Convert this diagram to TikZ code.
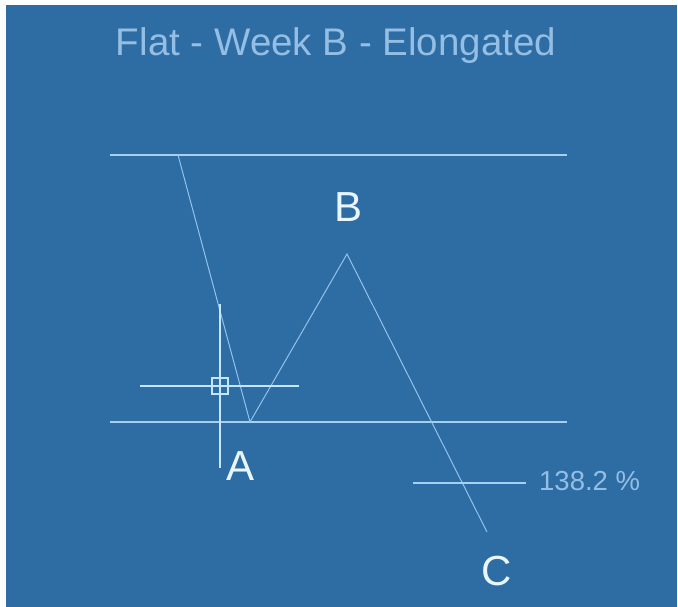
\documentclass[tikz,border=0pt]{standalone}
\usepackage{fontspec}
\setmainfont{Liberation Sans}
\definecolor{bgblue}{HTML}{2E6CA4}
\definecolor{lvl}{HTML}{A6D0F2}
\definecolor{wave}{HTML}{94C2EA}
\definecolor{cross}{HTML}{C4E6FF}
\definecolor{ttl}{HTML}{94BEE4}
\definecolor{lbl}{HTML}{EAF6FF}
\tikzset{
  level/.style={draw=lvl, line width=2pt},
  waveline/.style={draw=wave, line width=1pt},
  crossline/.style={draw=cross, line width=2pt},
  ptlabel/.style={text=lbl, font=\fontsize{42}{44}\selectfont, inner sep=0pt},
  pct/.style={text=ttl, font=\fontsize{27.5}{30}\selectfont, inner sep=0pt},
}
\begin{document}
\begin{tikzpicture}[x=1pt,y=-1pt]
\useasboundingbox (0,0) rectangle (678,607);
\fill[white] (0,0) rectangle (678,607);
\fill[bgblue] (6,5) rectangle (677,607);
% title
\node[text=ttl, font=\fontsize{38.5}{40}\selectfont, inner sep=0pt] (title) at (336,46) {Flat - Week B - Elongated};
% levels
\coordinate (t1) at (110,155); \coordinate (t2) at (567,155);
\coordinate (b1) at (110,422); \coordinate (b2) at (567,422);
\draw[level] (t1) -- (t2);
\draw[level] (b1) -- (b2);
% wave
\coordinate (w0) at (178,155);
\coordinate (pA) at (250,422);
\coordinate (pB) at (347,254);
\coordinate (pC) at (487,532);
\draw[waveline] (w0) -- (pA) -- (pB) -- (pC);
% 138.2 level
\coordinate (l1) at (413,483); \coordinate (l2) at (526,483);
\draw[level, line width=1.6pt] (l1) -- (l2);
\node[pct, anchor=west] (pcttext) at (539,481) {138.2 \%};
% crosshair
\coordinate (ch1) at (140,386); \coordinate (ch2) at (299,386);
\coordinate (cv1) at (220,304); \coordinate (cv2) at (220,468);
\draw[crossline] (ch1) -- (ch2);
\draw[crossline] (cv1) -- (cv2);
\node[draw=cross, line width=1.8pt, minimum size=16pt, inner sep=0pt] (cursor) at (220,386) {};
% labels
\node[ptlabel] (A) at (241,466) {A};
\node[ptlabel] (B) at (349,207) {B};
\node[ptlabel] (C) at (497,571) {C};
\end{tikzpicture}
\end{document}
